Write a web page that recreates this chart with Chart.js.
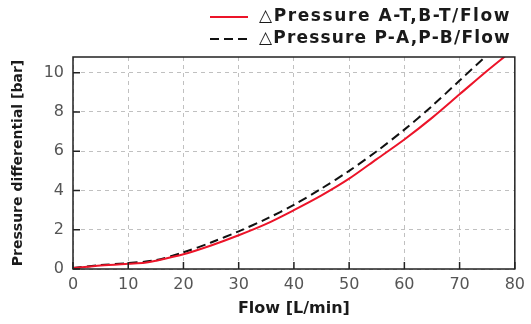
<!DOCTYPE html>
<html>
<head>
<meta charset="utf-8">
<script src="https://cdn.jsdelivr.net/npm/chart.js@4.4.0/dist/chart.umd.min.js"></script>
<style>
  html, body { margin: 0; padding: 0; background: #fff; }
  #wrap { width: 531px; height: 324px; }
</style>
</head>
<body>
<div id="wrap"><canvas id="chart" width="531" height="324"></canvas></div>
<script>
// ---- data ----
const flowAT = [0, 5, 10, 13, 15, 20, 25, 30, 35, 40, 45, 50, 55, 60, 65, 70, 75, 78.5];
const pressAT = [0.05, 0.18, 0.27, 0.32, 0.42, 0.75, 1.2, 1.72, 2.3, 3.0, 3.75, 4.6, 5.6, 6.6, 7.7, 8.9, 10.1, 10.9];
const flowPA = [0, 5, 10, 15, 20, 25, 30, 35, 40, 45, 50, 55, 60, 65, 70, 75];
const pressPA = [0.05, 0.2, 0.3, 0.45, 0.85, 1.35, 1.92, 2.55, 3.27, 4.1, 5.0, 6.0, 7.1, 8.3, 9.6, 10.9];
const xTicks = [0, 10, 20, 30, 40, 50, 60, 70, 80];
const yTicks = [0, 2, 4, 6, 8, 10];

const toPoints = (xs, ys) => xs.map((x, i) => ({ x: x, y: ys[i] }));
const boldFont = 'bold 17px "DejaVu Sans"';

// frame box + inward tick marks like the original plot
const framePlugin = {
  id: 'frame',
  afterDraw(chart) {
    const { ctx, chartArea: a, scales } = chart;
    ctx.save();
    ctx.strokeStyle = '#222';
    ctx.lineWidth = 1.5;
    ctx.setLineDash([]);
    ctx.strokeRect(a.left, a.top, a.right - a.left, a.bottom - a.top);
    ctx.beginPath();
    xTicks.forEach(v => {
      const px = scales.x.getPixelForValue(v);
      ctx.moveTo(px, a.bottom); ctx.lineTo(px, a.bottom - 7);
    });
    yTicks.forEach(v => {
      const py = scales.y.getPixelForValue(v);
      ctx.moveTo(a.left, py); ctx.lineTo(a.left + 7, py);
    });
    ctx.stroke();
    ctx.restore();
  }
};

// two-row legend, lines left-aligned like the original
const legendPlugin = {
  id: 'stackLegend',
  afterDraw(chart) {
    const ctx = chart.ctx;
    const lineX = 210, lineW = 38, textX = 259, rowY = [17, 39], textW = 252;
    ctx.save();
    chart.data.datasets.forEach((ds, i) => {
      const y = rowY[i];
      ctx.strokeStyle = ds.borderColor;
      ctx.lineWidth = 2;
      ctx.setLineDash(ds.borderDash || []);
      ctx.beginPath();
      ctx.moveTo(lineX, y); ctx.lineTo(lineX + lineW, y);
      ctx.stroke();
      ctx.setLineDash([]);
      ctx.font = boldFont;
      ctx.fillStyle = '#1a1a1a';
      ctx.textBaseline = 'middle';
      ctx.letterSpacing = '0px';
      const w = ctx.measureText(ds.label).width;
      const n = ds.label.length;
      ctx.letterSpacing = ((textW - w) / n).toFixed(2) + 'px';
      ctx.fillText(ds.label, textX, y);
    });
    ctx.restore();
  }
};

new Chart(document.getElementById('chart'), {
  type: 'line',
  data: {
    datasets: [
      {
        label: '\u25B3Pressure A-T,B-T/Flow',
        data: toPoints(flowAT, pressAT),
        borderColor: '#ec1429',
        borderWidth: 2,
        pointRadius: 0,
        tension: 0.3,
        fill: false
      },
      {
        label: '\u25B3Pressure P-A,P-B/Flow',
        data: toPoints(flowPA, pressPA),
        borderColor: '#111',
        borderWidth: 2,
        borderDash: [9, 5],
        pointRadius: 0,
        tension: 0.3,
        fill: false
      }
    ]
  },
  options: {
    responsive: false,
    animation: false,
    layout: { padding: { left: 8, right: 15, top: 57, bottom: 6 } },
    plugins: {
      legend: { display: false },
      tooltip: { enabled: false }
    },
    scales: {
      x: {
        type: 'linear',
        min: 0,
        max: 80,
        afterBuildTicks: s => { s.ticks = xTicks.map(v => ({ value: v })); },
        afterFit: s => { s.height = 324 - 269 - 6; },
        ticks: {
          color: '#555',
          padding: 6,
          font: { family: 'DejaVu Sans', size: 16 }
        },
        grid: { color: '#c0c0c0', lineWidth: 1, drawTicks: false },
        border: { display: false, dash: [4, 4] },
        title: {
          display: true,
          text: 'Flow [L/min]',
          color: '#1a1a1a',
          padding: { top: 1, bottom: 0 },
          font: { family: 'DejaVu Sans', size: 16, weight: 'bold' }
        }
      },
      y: {
        min: 0,
        max: 10.8,
        afterBuildTicks: s => { s.ticks = yTicks.map(v => ({ value: v })); },
        afterFit: s => { s.width = 73 - 8; },
        ticks: {
          color: '#555',
          padding: 9,
          font: { family: 'DejaVu Sans', size: 16 }
        },
        grid: { color: '#c0c0c0', lineWidth: 1, drawTicks: false },
        border: { display: false, dash: [4, 4] },
        title: {
          display: true,
          text: 'Pressure differential [bar]',
          color: '#1a1a1a',
          padding: { top: 2, bottom: 2 },
          font: { family: 'DejaVu Sans', size: 14, weight: 'bold' }
        }
      }
    }
  },
  plugins: [framePlugin, legendPlugin]
});
</script>
</body>
</html>
